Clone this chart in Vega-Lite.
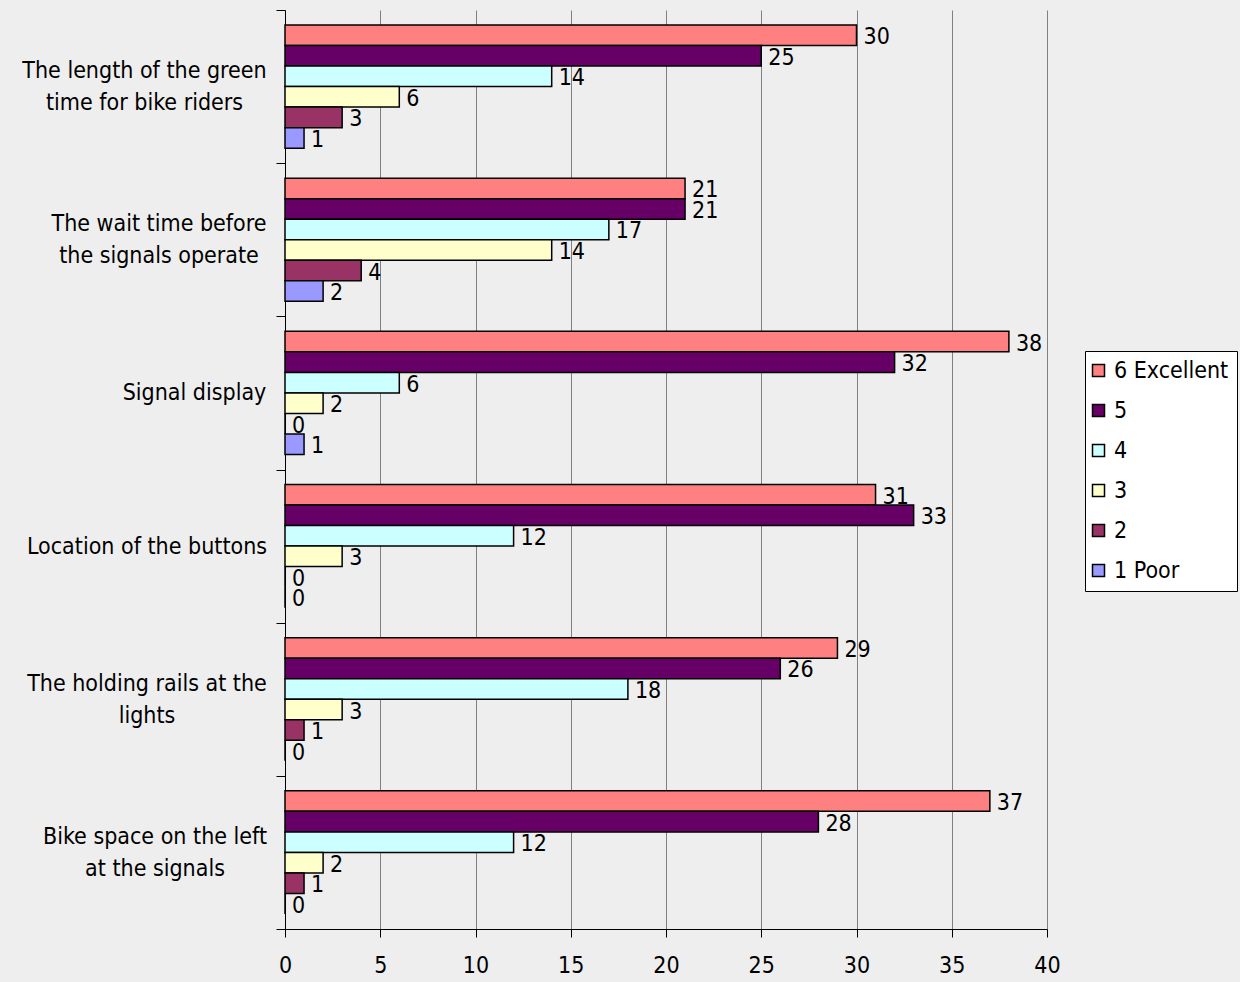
{
  "$schema": "https://vega.github.io/schema/vega-lite/v6.json",
  "width": 762,
  "height": 919,
  "autosize": {"type": "none"},
  "padding": {"left": 285, "top": 10, "right": 193, "bottom": 53},
  "background": "#eeeeee",
  "config": {
    "view": {"stroke": null},
    "font": "DejaVu Sans Condensed",
    "axis": {"labelFont": "DejaVu Sans Condensed", "labelColor": "black"},
    "legend": {"labelFont": "DejaVu Sans Condensed"}
  },
  "data": {
    "values": [
      {"item": "The length of the green|time for bike riders", "rating": "6 Excellent", "count": 30},
      {"item": "The length of the green|time for bike riders", "rating": "5", "count": 25},
      {"item": "The length of the green|time for bike riders", "rating": "4", "count": 14},
      {"item": "The length of the green|time for bike riders", "rating": "3", "count": 6},
      {"item": "The length of the green|time for bike riders", "rating": "2", "count": 3},
      {"item": "The length of the green|time for bike riders", "rating": "1 Poor", "count": 1},
      {"item": "The wait time before|the signals operate", "rating": "6 Excellent", "count": 21},
      {"item": "The wait time before|the signals operate", "rating": "5", "count": 21},
      {"item": "The wait time before|the signals operate", "rating": "4", "count": 17},
      {"item": "The wait time before|the signals operate", "rating": "3", "count": 14},
      {"item": "The wait time before|the signals operate", "rating": "2", "count": 4},
      {"item": "The wait time before|the signals operate", "rating": "1 Poor", "count": 2},
      {"item": "Signal display", "rating": "6 Excellent", "count": 38},
      {"item": "Signal display", "rating": "5", "count": 32},
      {"item": "Signal display", "rating": "4", "count": 6},
      {"item": "Signal display", "rating": "3", "count": 2},
      {"item": "Signal display", "rating": "2", "count": 0},
      {"item": "Signal display", "rating": "1 Poor", "count": 1},
      {"item": "Location of the buttons", "rating": "6 Excellent", "count": 31},
      {"item": "Location of the buttons", "rating": "5", "count": 33},
      {"item": "Location of the buttons", "rating": "4", "count": 12},
      {"item": "Location of the buttons", "rating": "3", "count": 3},
      {"item": "Location of the buttons", "rating": "2", "count": 0},
      {"item": "Location of the buttons", "rating": "1 Poor", "count": 0},
      {"item": "The holding rails at the|lights", "rating": "6 Excellent", "count": 29},
      {"item": "The holding rails at the|lights", "rating": "5", "count": 26},
      {"item": "The holding rails at the|lights", "rating": "4", "count": 18},
      {"item": "The holding rails at the|lights", "rating": "3", "count": 3},
      {"item": "The holding rails at the|lights", "rating": "2", "count": 1},
      {"item": "The holding rails at the|lights", "rating": "1 Poor", "count": 0},
      {"item": "Bike space on the left|at the signals", "rating": "6 Excellent", "count": 37},
      {"item": "Bike space on the left|at the signals", "rating": "5", "count": 28},
      {"item": "Bike space on the left|at the signals", "rating": "4", "count": 12},
      {"item": "Bike space on the left|at the signals", "rating": "3", "count": 2},
      {"item": "Bike space on the left|at the signals", "rating": "2", "count": 1},
      {"item": "Bike space on the left|at the signals", "rating": "1 Poor", "count": 0}
    ]
  },
  "encoding": {
    "y": {
      "field": "item",
      "type": "nominal",
      "sort": null,
      "title": null,
      "scale": {"paddingInner": 0, "paddingOuter": 0},
      "axis": {
        "labelExpr": "isValid(datum.value) ? split(datum.value, '|') : ''",
        "labelFontSize": 23,
        "labelLineHeight": 32,
        "labelLimit": 0,
        "labelAlign": "center",
        "labelBaseline": "middle",
        "labelPadding": {
          "condition": [
            {"test": "datum.value == 'The wait time before|the signals operate'", "value": 117.5},
            {"test": "datum.value == 'Signal display'", "value": 82},
            {"test": "datum.value == 'Location of the buttons'", "value": 129.5},
            {"test": "datum.value == 'The holding rails at the|lights'", "value": 129.5},
            {"test": "datum.value == 'Bike space on the left|at the signals'", "value": 121.5}
          ],
          "value": 132
        },
        "labelOffset": {
          "condition": {"test": "isValid(datum.value) && indexof(datum.value, '|') >= 0", "value": -16},
          "value": 0
        },
        "tickBand": "extent",
        "tickSize": 9,
        "tickColor": "black",
        "domainColor": "black",
        "grid": false
      }
    },
    "yOffset": {
      "field": "rating",
      "type": "nominal",
      "sort": ["6 Excellent", "5", "4", "3", "2", "1 Poor"],
      "scale": {"paddingInner": 0, "paddingOuter": 0.73}
    },
    "x": {
      "field": "count",
      "type": "quantitative",
      "title": null,
      "scale": {"domain": [0, 40], "nice": false},
      "axis": {
        "values": [0, 5, 10, 15, 20, 25, 30, 35, 40],
        "labelFontSize": 23,
        "labelPadding": 17,
        "labelFlush": false,
        "tickSize": 8,
        "tickColor": "black",
        "domainColor": "black",
        "grid": true,
        "gridColor": "#808080",
        "gridWidth": 1,
        "gridOpacity": 1
      }
    }
  },
  "layer": [
    {
      "mark": {"type": "bar", "stroke": "black", "strokeWidth": 1.5},
      "encoding": {
        "color": {
          "field": "rating",
          "type": "nominal",
          "title": null,
          "scale": {
            "domain": ["6 Excellent", "5", "4", "3", "2", "1 Poor"],
            "range": ["#ff8080", "#660066", "#ccffff", "#ffffcc", "#993366", "#9999ff"]
          },
          "legend": {
            "orient": "none",
            "legendX": 800,
            "legendY": 341,
            "fillColor": "white",
            "strokeColor": "black",
            "padding": 8,
            "symbolType": "square",
            "symbolSize": 144,
            "symbolOffset": -6,
            "symbolStrokeColor": "black",
            "symbolStrokeWidth": 1.5,
            "symbolOpacity": 1,
            "labelFontSize": 23,
            "labelColor": "black",
            "labelOffset": 4,
            "rowPadding": 16
          }
        }
      }
    },
    {
      "mark": {"type": "text", "align": "left", "baseline": "middle", "dx": 7, "dy": 2, "fontSize": 23, "color": "black"},
      "encoding": {
        "text": {"field": "count", "type": "quantitative"}
      }
    }
  ]
}
